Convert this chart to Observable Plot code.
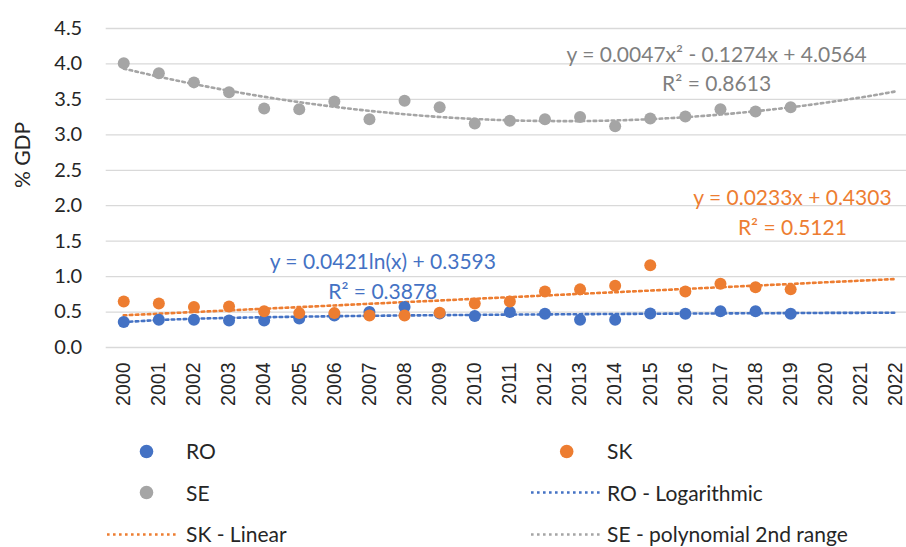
<!DOCTYPE html>
<html><head><meta charset="utf-8">
<script src="https://cdn.jsdelivr.net/npm/d3@7"></script>
<script src="https://cdn.jsdelivr.net/npm/@observablehq/plot@0.6"></script>
<style>
body{margin:0;background:#fff;width:906px;height:547px;overflow:hidden;}
#legend{display:grid;grid-template-columns:70px 354px 70px 1fr;grid-auto-rows:41.5px;padding-left:107px;padding-top:12.5px;font-family:Lato,sans-serif;font-size:21px;line-height:1.15;color:#262626;}
.sw{display:flex;align-items:center;}
.lb{display:flex;align-items:center;white-space:nowrap;}
</style></head><body>
<div id="chart"></div><div id="legend"></div>
<script>
// Categories
const years = [2000,2001,2002,2003,2004,2005,2006,2007,2008,2009,2010,2011,2012,2013,2014,2015,2016,2017,2018,2019];
const trendYears = [2000,2001,2002,2003,2004,2005,2006,2007,2008,2009,2010,2011,2012,2013,2014,2015,2016,2017,2018,2019,2020,2021,2022];
// Series values (% GDP)
const RO = [0.36,0.39,0.39,0.38,0.38,0.41,0.45,0.50,0.57,0.48,0.445,0.50,0.475,0.39,0.39,0.48,0.475,0.51,0.51,0.475];
const SK = [0.65,0.62,0.57,0.58,0.51,0.485,0.485,0.45,0.45,0.49,0.62,0.65,0.79,0.82,0.87,1.16,0.79,0.90,0.85,0.82];
const SE = [4.01,3.87,3.74,3.60,3.37,3.36,3.47,3.22,3.48,3.39,3.16,3.20,3.22,3.25,3.12,3.23,3.26,3.36,3.33,3.39];
// Trend lines
const roLog = [0.359,0.388,0.406,0.418,0.427,0.435,0.441,0.447,0.452,0.456,0.460,0.464,0.467,0.470,0.473,0.476,0.479,0.481,0.483,0.485,0.488,0.489,0.491];
const skLinear = [0.454,0.477,0.500,0.524,0.547,0.570,0.593,0.617,0.640,0.663,0.687,0.710,0.733,0.757,0.780,0.803,0.826,0.850,0.873,0.896,0.920,0.943,0.966];
const sePoly = [3.934,3.820,3.717,3.622,3.537,3.461,3.395,3.338,3.291,3.252,3.224,3.204,3.195,3.194,3.203,3.221,3.249,3.286,3.333,3.388,3.454,3.528,3.613];
// Tick labels
const yTicks = [0,0.5,1,1.5,2,2.5,3,3.5,4,4.5];
// Trendline labels and their anchors
const eqTexts = ["y = 0.0421ln(x) + 0.3593\nR² = 0.3878","y = 0.0233x + 0.4303\nR² = 0.5121","y = 0.0047x² - 0.1274x + 4.0564\nR² = 0.8613"];
const eqYears = [2007.38,2019.05,2016.89];
const eqValues = [1.027,1.932,3.958];
// Legend
const legendLabels = ["RO","SK","SE","RO - Logarithmic","SK - Linear","SE - polynomial 2nd range"];
const legendKinds = ["dot","dot","dot","line","line","line"];
const colors = {RO:"#4472C4", SK:"#ED7D31", SE:"#A5A5A5"};
const eqColors = ["#4472C4","#ED7D31","#7F7F7F"];
const legendColors = [colors.RO, colors.SK, colors.SE, colors.RO, colors.SK, colors.SE];

const pts = arr => years.map((year,i)=>({year, value: arr[i]}));
const tr = arr => trendYears.map((year,i)=>({year, value: arr[i]}));
const dash = {strokeWidth:2.6, strokeDasharray:"2.6 3.4"};

const marks = [
  Plot.gridY(yTicks, {stroke:"#d9d9d9", strokeOpacity:1, strokeWidth:1.3}),
  Plot.axisY(yTicks, {tickSize:0, tickPadding:24, tickFormat:d3.format(".1f"), fontSize:20, label:null}),
  Plot.axisX(trendYears, {tickRotate:-90, tickSize:0, tickPadding:15, tickFormat:d=>String(d), fontFamily:"Liberation Sans, Arial, sans-serif", fontSize:19.5, label:null}),
  Plot.line(tr(roLog), {x:"year", y:"value", stroke:colors.RO, ...dash}),
  Plot.line(tr(skLinear), {x:"year", y:"value", stroke:colors.SK, ...dash}),
  Plot.line(tr(sePoly), {x:"year", y:"value", stroke:colors.SE, curve:"natural", ...dash}),
  Plot.dot(pts(RO), {x:"year", y:"value", r:6, fill:colors.RO}),
  Plot.dot(pts(SK), {x:"year", y:"value", r:6, fill:colors.SK}),
  Plot.dot(pts(SE), {x:"year", y:"value", r:6, fill:colors.SE}),
  ...eqTexts.map((t,i)=>Plot.text([{year:eqYears[i], value:eqValues[i], t}], {x:"year", y:"value", text:"t", fill:eqColors[i], fontSize:21, lineHeight:1.4, textAnchor:"middle"})),
  Plot.text(["% GDP"], {text:d=>d, frameAnchor:"left", dx:-83, rotate:-90, fontSize:21, fill:"#262626"})
];

const chart = Plot.plot({
  width:906, height:418,
  marginLeft:105.7, marginRight:0, marginTop:28, marginBottom:71,
  x:{domain:[1999.5,2022.3], label:null},
  y:{domain:[0,4.5], label:null},
  style:{fontFamily:"Lato, sans-serif", fontSize:"20px", color:"#262626", background:"#fff", overflow:"visible"},
  marks
});
document.getElementById("chart").appendChild(chart);

const legend = document.getElementById("legend");
legendLabels.forEach((lab,i)=>{
  const col = i % 2;
  const sw = document.createElement("div"); sw.className="sw";
  const ns = "http://www.w3.org/2000/svg";
  const s = document.createElementNS(ns,"svg"); s.setAttribute("width","70"); s.setAttribute("height","41");
  if (legendKinds[i]==="dot") {
    const c = document.createElementNS(ns,"circle");
    c.setAttribute("cx", col===0 ? 39.5 : 35.7); c.setAttribute("cy", 20.5); c.setAttribute("r", 6.8); c.setAttribute("fill", legendColors[i]);
    s.appendChild(c);
  } else {
    const l = document.createElementNS(ns,"line");
    l.setAttribute("x1",0); l.setAttribute("x2",70); l.setAttribute("y1",20.5); l.setAttribute("y2",20.5);
    l.setAttribute("stroke", legendColors[i]); l.setAttribute("stroke-width",2.6); l.setAttribute("stroke-dasharray","2.6 3.4");
    s.appendChild(l);
  }
  sw.appendChild(s);
  const lb = document.createElement("div"); lb.className="lb"; lb.textContent = lab;
  lb.style.paddingLeft = col===0 ? "9px" : "6px";
  legend.appendChild(sw); legend.appendChild(lb);
});
</script>
</body></html>
